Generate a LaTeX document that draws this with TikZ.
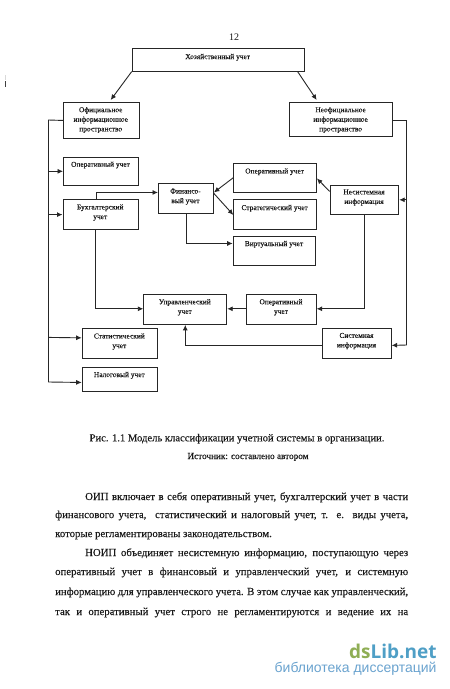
\documentclass[tikz,border=0pt]{standalone}
\usepackage{fontspec}
\setmainfont{Liberation Serif}
\newfontfamily\wmfont{Open Sans}
\newfontfamily\wmsubfont{Liberation Sans}
\usetikzlibrary{arrows.meta}
\definecolor{wmgreen}{HTML}{8FAE55}
\definecolor{wmblue}{HTML}{4F9FC6}
\definecolor{wmsub}{HTML}{6AA3CF}
\tikzset{
 bx/.style={draw=black!85,line width=0.9pt,inner sep=0pt,anchor=north west},
 lab/.style={font=\addfontfeature{FakeBold=0.25}\fontsize{7.4}{9.6}\selectfont,align=center,inner sep=0pt,text=black!90},
 ln/.style={draw=black!85,line width=0.9pt},
 arr/.style={ln,-{Latex[length=5.5pt,width=5pt]}},
 txt/.style={font=\addfontfeature{FakeBold=0.12}\fontsize{10.75}{10.75}\selectfont,anchor=base west,inner sep=0pt,text=black!90},
 capt/.style={font=\addfontfeature{FakeBold=0.12}\fontsize{10.6}{11}\selectfont,anchor=base,inner sep=0pt,text=black!90}
}
% name, x1, y1, x2, y2, text centre y, text
\newcommand{\bxn}[7]{%
 \node[bx,minimum width={(#4-#2)*1pt},minimum height={(#5-#3)*1pt}] (#1) at (#2,#3) {};
 \node[lab] (#1t) at ({(#2+#4)/2},#6) {#7};}
\newcommand{\jline}[5]{\node[txt] (#1) at (#2,#3) {\makebox[#4pt][s]{#5}};}
\begin{document}
\begin{tikzpicture}[x=1pt,y=-1pt]
\useasboundingbox (0,0) rectangle (450,689);
\fill[white] (0,0) rectangle (450,689);
\fill[black!75] (4.5,81) rectangle (5.8,87);
\fill[black!15] (4.5,75) rectangle (5.8,80);
\node[font=\fontsize{10}{10}\selectfont,inner sep=0pt,text=black!90] (pg) at (234,37.3) {12};

\bxn{hoz}{131.7}{48}{303.7}{70.7}{57.3}{Хозяйственный учет}
\bxn{of}{63}{102}{138.5}{138}{120}{Официальное\\информационное\\пространство}
\bxn{opa}{63}{156.7}{138}{185}{165}{Оперативный учет}
\bxn{buh}{62.5}{199.3}{138}{229}{212.5}{Бухгалтерский\\учет}
\bxn{fin}{158}{183.3}{213}{212.7}{196.7}{Финансо-\\вый учет}
\bxn{opb}{233.3}{163.3}{316}{192.3}{171.7}{Оперативный учет}
\bxn{str}{233.3}{199.3}{316}{229}{208.3}{Стратегический учет}
\bxn{vir}{232.7}{236}{315.3}{265}{244.3}{Виртуальный учет}
\bxn{neo}{289}{102.3}{392.3}{136}{120}{Неофициальное\\информационное\\пространство}
\bxn{nes}{329.7}{184.7}{398.3}{214}{197.5}{Несистемная\\информация}
\bxn{upr}{143.3}{294.3}{226.3}{324}{307.3}{Управленческий\\учет}
\bxn{opc}{246.3}{294.3}{315.7}{324}{307.3}{Оперативный\\учет}
\bxn{sys}{322.3}{328}{390.7}{357.7}{341}{Системная\\информация}
\bxn{sta}{81.7}{328}{157}{358}{341.5}{Статистический\\учет}
\bxn{nal}{81.7}{366.7}{157}{390.7}{375.3}{Налоговый учет}

\coordinate (lbus) at (48.5,120);
\coordinate (hofe) at (110.7,100);
\coordinate (hnee) at (316.7,100);

% Top splits
\draw[arr] (hoz.south west) -- (hofe);
\draw[arr] ([xshift=-7pt]hoz.south east) -- (hnee);

% Left bus
\draw[ln] (of.west) -- (lbus) -- (lbus |- 0,382);
\draw[arr] (lbus |- opa.west) -- (opa.west);
\draw[arr] (lbus |- buh.west) -- (buh.west);
\draw[arr] (lbus |- 0,337.4) -- ([yshift=5.6pt]sta.west);
\draw[arr] (lbus |- 0,382) -- ([yshift=-3.3pt]nal.west);

% Right bus
\draw[ln] ([yshift=-1pt]neo.east) -- ++(13.7,0) coordinate (rtop) -- (rtop |- 0,345);
\draw[arr] (rtop |- nes.east) -- (nes.east);
\draw[arr] (rtop |- 0,345) -- ([yshift=-2.1pt]sys.east);

% Central links
\draw[arr] ([xshift=-3.8pt]buh.north) |- ([yshift=6pt]fin.west);
\draw[arr] (opb.west |- 0,177.7) -- ([yshift=6pt]fin.east);
\draw[arr] ([yshift=5pt]fin.east) -- ([yshift=-0.3pt]str.west);
\draw[arr] (fin.south) |- ([yshift=7.5pt]vir.west);
\draw[arr] ([yshift=8.4pt]nes.west) -- ([yshift=-0.2pt]opb.east);
\draw[arr] ([xshift=-4.8pt]buh.south) |- ([yshift=0.8pt]upr.west);
\draw[arr] (nes.south) |- ([yshift=0.8pt]opc.east);
\draw[arr] ([yshift=0.8pt]opc.west) -- ([yshift=0.8pt]upr.east);
\draw[arr] ([yshift=-2.1pt]sys.west) -| (upr.south);

% Caption and body text
\node[capt] (c1) at (237,441.3) {Рис. 1.1 Модель классификации учетной системы в организации.};
\node[capt,font=\addfontfeature{FakeBold=0.2}\fontsize{9.2}{10}\selectfont] (c2) at (248,459) {Источник: составлено автором};
\jline{l1}{85}{500}{323}{ОИП включает в себя оперативный учет, бухгалтерский учет в части}
\jline{l2}{55}{518}{353}{финансового учета,\ \ статистический и налоговый учет, т. е. виды учета,}
\node[txt] (l3) at (55,537) {которые регламентированы законодательством.};
\jline{l4}{85}{556}{323}{НОИП объединяет несистемную информацию, поступающую через}
\jline{l5}{55}{575}{353}{оперативный учет в финансовый и управленческий учет, и системную}
\jline{l6}{55}{595}{353}{информацию для управленческого учета. В этом случае как управленческий,}
\jline{l7}{55}{615}{353}{так и оперативный учет строго не регламентируются и ведение их на}

% Watermark
\node[font=\wmfont\bfseries\fontsize{19}{19}\selectfont,anchor=base east,inner sep=0pt] (wm) at (436.7,658) {\textcolor{wmgreen}{ds}\textcolor{wmblue}{Lib.net}};
\node[font=\wmsubfont\fontsize{14}{14}\selectfont,anchor=base east,inner sep=0pt,text=wmsub] (wms) at (436.7,672.5) {библиотека диссертаций};
\end{tikzpicture}
\end{document}
